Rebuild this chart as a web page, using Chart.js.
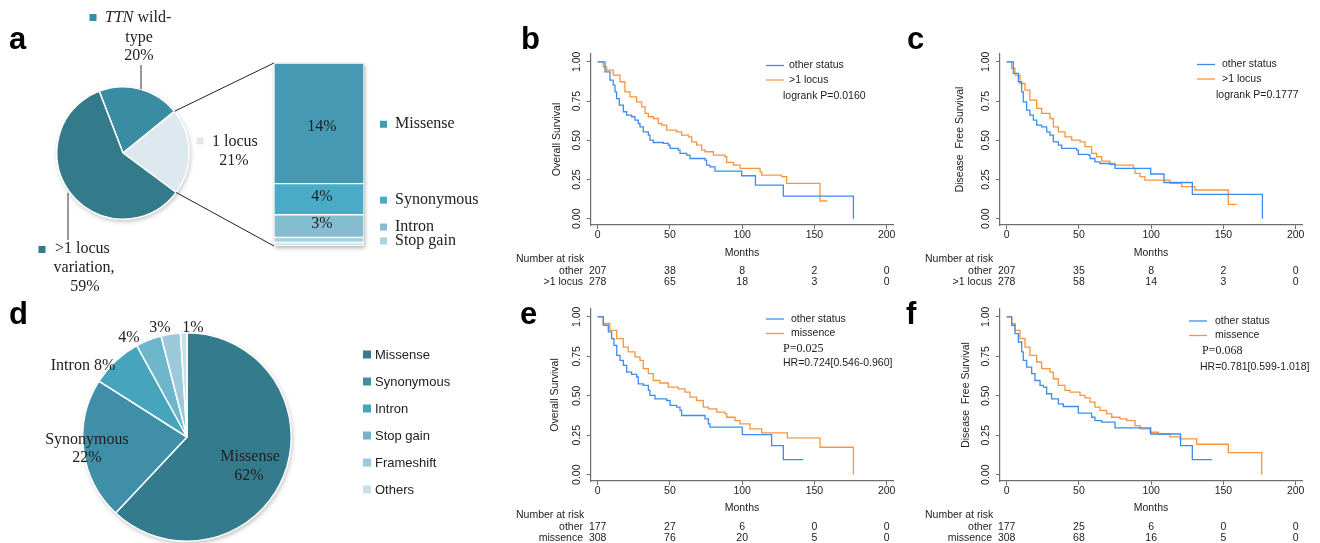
<!DOCTYPE html>
<html>
<head>
<meta charset="utf-8">
<script src="https://cdn.jsdelivr.net/npm/chart.js@4.4.1/dist/chart.umd.min.js"></script>
<style>
  html, body { margin: 0; padding: 0; background: #fff; }
  #page { position: relative; width: 1320px; height: 543px; overflow: hidden; background: #fff; }
  canvas { position: absolute; }
  .tag { position: absolute; font: bold 31px 'Liberation Sans', Arial, sans-serif; line-height: 31px; color: #000; }
</style>
</head>
<body>
<div id="page">
  <canvas id="pieA" width="540" height="300" style="left:0;top:0"></canvas>
  <canvas id="barA" width="540" height="300" style="left:0;top:0"></canvas>
  <canvas id="pieD" width="540" height="243" style="left:0;top:300px"></canvas>
  <canvas id="kmB" width="400" height="265" style="left:500px;top:30px"></canvas>
  <canvas id="kmC" width="400" height="265" style="left:910px;top:30px"></canvas>
  <canvas id="kmE" width="400" height="253" style="left:500px;top:290px"></canvas>
  <canvas id="kmF" width="400" height="253" style="left:910px;top:290px"></canvas>
  <div class="tag" style="left:9px;top:23px">a</div>
  <div class="tag" style="left:521px;top:23px">b</div>
  <div class="tag" style="left:907px;top:23px">c</div>
  <div class="tag" style="left:9px;top:298px">d</div>
  <div class="tag" style="left:520px;top:298px">e</div>
  <div class="tag" style="left:906px;top:298px">f</div>
</div>
<script>
// ==== Data ====
// panel a: TTN status pie + breakdown of the "1 locus" slice
const statusLabels = ['TTN wild-type', '1 locus', '>1 locus variation'];
const statusShare = [20, 21, 59];
const locusLabels = ['Missense', 'Synonymous', 'Intron', 'Stop gain', 'Other'];
const locusShare = [13.9, 3.6, 2.6, 0.6, 0.4];
const locusText = ['14%', '4%', '3%'];

// panel d: mutation types
const mutLabels = ['Missense', 'Synonymous', 'Intron', 'Stop gain', 'Frameshift', 'Others'];
const mutShare = [62, 22, 8, 4, 3, 1];

// Kaplan-Meier curves, [month, survival]
const riskTimes = [0, 50, 100, 150, 200];
const survTicks = [0, 0.25, 0.5, 0.75, 1];

const bOther = [[0,1],[5.1,0.936],[8.5,0.883],[10.8,0.851],[12.0,0.809],[13.1,0.766],[15.0,0.724],[17.8,0.682],[20.1,0.660],[23.5,0.650],[25.8,0.628],[28.1,0.607],[29.3,0.586],[31.6,0.554],[35.1,0.533],[36.2,0.501],[38.5,0.486],[45.4,0.480],[48.9,0.469],[50.1,0.448],[55.8,0.437],[57.0,0.416],[61.6,0.406],[63.9,0.384],[74.3,0.374],[75.4,0.342],[77.7,0.331],[81.2,0.304],[99.7,0.274],[109.2,0.214],[128.5,0.144],[177,0]];
const bLocus = [[0,1],[3.9,0.968],[6.2,0.947],[10.8,0.915],[15.5,0.873],[18.9,0.809],[22.4,0.777],[27.0,0.745],[30.5,0.713],[32.8,0.671],[35.1,0.650],[38.5,0.639],[42.0,0.607],[44.3,0.597],[47.8,0.565],[54.7,0.554],[58.1,0.533],[62.8,0.522],[65.1,0.490],[68.5,0.469],[72.0,0.437],[74.3,0.427],[80.1,0.406],[88.1,0.395],[89.3,0.359],[93.9,0.342],[98.5,0.321],[112.4,0.299],[113.5,0.278],[127.3,0.268],[130.8,0.225],[153.9,0.113],[159,0.113]];

const cOther = [[0,1],[4.6,0.926],[8.1,0.873],[10.4,0.809],[11.5,0.745],[13.8,0.692],[16.1,0.660],[18.5,0.628],[20.8,0.597],[24.2,0.586],[27.7,0.554],[30.0,0.533],[32.3,0.490],[35.8,0.469],[38.1,0.448],[48.4,0.437],[49.6,0.410],[56.5,0.406],[57.7,0.384],[61.1,0.363],[64.6,0.352],[71.5,0.346],[75.0,0.321],[99.7,0.285],[108.9,0.231],[128.5,0.155],[177,0]];
const cLocus = [[0,1],[3.5,0.958],[5.8,0.915],[9.2,0.862],[12.7,0.820],[16.1,0.756],[20.8,0.703],[24.2,0.671],[30.0,0.639],[32.3,0.586],[35.8,0.554],[40.4,0.522],[45.0,0.501],[50.8,0.490],[54.2,0.459],[58.8,0.416],[62.3,0.395],[65.8,0.367],[71.5,0.352],[75.0,0.342],[87.7,0.321],[88.8,0.289],[92.3,0.268],[95.7,0.246],[113.0,0.225],[121.1,0.204],[130.3,0.183],[153.4,0.091],[159.2,0.091]];

const eOther = [[0,1],[3.9,0.947],[7.4,0.905],[9.7,0.862],[11.3,0.820],[13.2,0.756],[15.5,0.725],[17.8,0.693],[20.1,0.650],[23.5,0.636],[27.0,0.619],[28.1,0.576],[31.6,0.566],[35.1,0.534],[36.2,0.502],[39.7,0.481],[47.8,0.470],[50.1,0.439],[54.7,0.428],[57.0,0.407],[58.1,0.375],[74.3,0.354],[76.6,0.322],[77.7,0.301],[100.1,0.254],[120.4,0.184],[128.5,0.095],[142.3,0.095]];
const eMis = [[0,1],[3.9,0.958],[8.5,0.915],[13.2,0.862],[17.8,0.809],[21.2,0.778],[25.8,0.746],[29.3,0.725],[31.6,0.672],[35.1,0.640],[38.5,0.597],[43.1,0.581],[48.9,0.555],[55.8,0.544],[60.4,0.523],[63.9,0.492],[68.5,0.470],[73.1,0.428],[76.6,0.417],[82.4,0.396],[88.1,0.386],[89.3,0.364],[95.0,0.343],[98.5,0.322],[105.4,0.290],[113.5,0.265],[131.3,0.233],[153.9,0.174],[177,0]];

const fOther = [[0,1],[3.5,0.947],[5.8,0.894],[8.1,0.841],[10.4,0.778],[11.5,0.725],[13.8,0.682],[17.3,0.640],[19.6,0.597],[23.1,0.566],[25.4,0.555],[27.7,0.513],[31.1,0.481],[35.8,0.449],[39.2,0.432],[49.6,0.390],[58.8,0.364],[61.1,0.343],[65.8,0.333],[75.0,0.297],[99.7,0.258],[120.4,0.184],[128.5,0.095],[142.3,0.095]];
const fMis = [[0,1],[3.5,0.958],[5.8,0.915],[9.2,0.862],[12.7,0.809],[16.1,0.756],[20.8,0.714],[24.2,0.672],[30.0,0.650],[32.3,0.608],[35.8,0.566],[40.4,0.534],[43.8,0.523],[50.8,0.502],[54.2,0.487],[57.7,0.460],[61.1,0.428],[64.6,0.407],[69.2,0.386],[72.7,0.364],[78.4,0.354],[83.1,0.343],[88.8,0.311],[92.3,0.290],[99.2,0.269],[105.0,0.258],[113.0,0.239],[119.9,0.227],[131.5,0.193],[153.4,0.140],[176.5,0]];

// numbers at risk
const bRiskOther = [207, 38, 8, 2, 0];
const bRiskLocus = [278, 65, 18, 3, 0];
const cRiskOther = [207, 35, 8, 2, 0];
const cRiskLocus = [278, 58, 14, 3, 0];
const eRiskOther = [177, 27, 6, 0, 0];
const eRiskMis = [308, 76, 20, 5, 0];
const fRiskOther = [177, 25, 6, 0, 0];
const fRiskMis = [308, 68, 16, 5, 0];

// ==== Styles ====
const SANS = "'Liberation Sans', Arial, sans-serif";
const SERIF = "'Liberation Serif', 'Times New Roman', serif";
const TXT = '#222';
const AXIS = '#6e6e6e';
const BLUE = '#3b8df2';
const ORANGE = '#f7963f';
const statusColors = ['#3a8ca2', '#dde9ef', '#337a8b'];
const locusColors = ['#4599b3', '#49abc5', '#85bdd0', '#a8d3e1', '#cfe6ee'];
const mutColors = ['#347b8d', '#3e8fa7', '#46a5bd', '#6db6cb', '#9dcadb', '#c6e1eb'];

Chart.defaults.font.family = SANS;
Chart.defaults.color = TXT;

// soft drop shadow under a pie
const pieShadow = {
    id: 'pieShadow',
    beforeDatasetsDraw(chart) {
        const arc = chart.getDatasetMeta(0).data[0];
        const ctx = chart.ctx;
        ctx.save();
        ctx.shadowColor = 'rgba(0,0,0,0.28)';
        ctx.shadowBlur = 5;
        ctx.shadowOffsetX = 1;
        ctx.shadowOffsetY = 2;
        ctx.fillStyle = '#fff';
        ctx.beginPath();
        ctx.arc(arc.x, arc.y, arc.outerRadius, 0, Math.PI * 2);
        ctx.fill();
        ctx.restore();
    }
};

// small legend square, leaves the text colour set again
function square(ctx, x, y, color) {
    ctx.fillStyle = color;
    ctx.fillRect(x, y - 3.5, 7, 7);
    ctx.fillStyle = TXT;
}

// ==== Panel a: pie ====
const pieALabels = {
    id: 'pieALabels',
    afterDraw(chart) {
        const { ctx } = chart;
        const arc = chart.getDatasetMeta(0).data[0];
        const cx = arc.x, cy = arc.y, r = arc.outerRadius;
        ctx.save();
        ctx.textBaseline = 'middle';
        ctx.fillStyle = TXT;

        // wild-type
        square(ctx, 89.5, 17.5, statusColors[0]);
        ctx.textAlign = 'left';
        ctx.font = 'italic 16px ' + SERIF;
        ctx.fillText('TTN', 105, 18);
        const w = ctx.measureText('TTN').width;
        ctx.font = '16px ' + SERIF;
        ctx.fillText(' wild-', 105 + w, 18);
        ctx.textAlign = 'center';
        ctx.fillText('type', 139, 38);
        ctx.fillText('20%', 139, 56);

        // 1 locus
        square(ctx, 196.5, 141, statusColors[1]);
        ctx.textAlign = 'left';
        ctx.fillText('1 locus', 212, 142);
        ctx.textAlign = 'center';
        ctx.fillText('21%', 234, 161);

        // >1 locus
        square(ctx, 38.5, 249.5, statusColors[2]);
        ctx.textAlign = 'left';
        ctx.fillText('>1 locus', 55, 249);
        ctx.textAlign = 'center';
        ctx.fillText('variation,', 84, 268);
        ctx.fillText('59%', 85, 287);

        // leader lines
        ctx.strokeStyle = '#333';
        ctx.lineWidth = 1;
        ctx.beginPath();
        ctx.moveTo(cx + 18, cy - Math.sqrt(r * r - 18 * 18));
        ctx.lineTo(cx + 18, 65);
        ctx.moveTo(cx - 55, cy + Math.sqrt(r * r - 55 * 55) + 3);
        ctx.lineTo(cx - 55, 240);
        ctx.stroke();
        ctx.restore();
    }
};

const pieA = new Chart(document.getElementById('pieA'), {
    type: 'pie',
    data: {
        labels: statusLabels,
        datasets: [{
            data: statusShare,
            backgroundColor: statusColors,
            borderColor: '#fff',
            borderWidth: 1.5,
            rotation: -21
        }]
    },
    options: {
        responsive: false,
        animation: false,
        rotation: -21,
        layout: { padding: { left: 56, right: 350, top: 86, bottom: 80 } },
        plugins: { legend: { display: false }, tooltip: { enabled: false } }
    },
    plugins: [pieShadow, pieALabels]
});

// ==== Panel a: stacked bar for the 1 locus slice ====
const barShadow = {
    id: 'barShadow',
    beforeDatasetsDraw(chart) {
        const { ctx, chartArea: a } = chart;
        ctx.save();
        ctx.shadowColor = 'rgba(0,0,0,0.3)';
        ctx.shadowBlur = 4;
        ctx.shadowOffsetX = 1;
        ctx.shadowOffsetY = 2;
        ctx.fillStyle = '#fff';
        ctx.fillRect(a.left, a.top, a.right - a.left, a.bottom - a.top);
        ctx.restore();
    }
};

const barAExtras = {
    id: 'barAExtras',
    afterDraw(chart) {
        const { ctx } = chart;
        const n = chart.data.datasets.length;
        const first = chart.getDatasetMeta(0).data[0];
        const last = chart.getDatasetMeta(n - 1).data[0];
        const left = first.x - first.width / 2;
        const right = first.x + first.width / 2;
        const top = first.base;
        const bottom = last.y;

        // lines from the "1 locus" slice edges to the bar
        const slice = pieA.getDatasetMeta(0).data[1];
        const r = slice.outerRadius;
        ctx.save();
        ctx.strokeStyle = '#222';
        ctx.lineWidth = 1;
        ctx.beginPath();
        ctx.moveTo(slice.x + r * Math.cos(slice.startAngle), slice.y + r * Math.sin(slice.startAngle));
        ctx.lineTo(left, top);
        ctx.moveTo(slice.x + r * Math.cos(slice.endAngle), slice.y + r * Math.sin(slice.endAngle));
        ctx.lineTo(left, bottom);
        ctx.stroke();

        ctx.textBaseline = 'middle';
        ctx.font = '16px ' + SERIF;
        // percentages inside the segments
        locusText.forEach((t, i) => {
            const el = chart.getDatasetMeta(i).data[0];
            ctx.fillStyle = TXT;
            ctx.textAlign = 'center';
            ctx.fillText(t, el.x + 3, (el.y + el.base) / 2 + (i === 0 ? 4 : -2));
        });
        // legend next to the bar
        for (let i = 0; i < 4; i++) {
            const el = chart.getDatasetMeta(i).data[0];
            const cy = (el.y + el.base) / 2 + 1;
            square(ctx, right + 16, cy, locusColors[i]);
            ctx.textAlign = 'left';
            ctx.fillText(locusLabels[i], right + 31, cy);
        }
        ctx.restore();
    }
};

new Chart(document.getElementById('barA'), {
    type: 'bar',
    data: {
        labels: ['1 locus'],
        datasets: locusLabels.map((label, i) => ({
            label: label,
            data: [locusShare[i]],
            backgroundColor: locusColors[i],
            borderColor: '#fff',
            borderWidth: 1,
            borderSkipped: false,
            barPercentage: 1,
            categoryPercentage: 1
        }))
    },
    options: {
        responsive: false,
        animation: false,
        layout: { padding: { left: 274, right: 176, top: 63, bottom: 54 } },
        scales: {
            x: { display: false, stacked: true },
            y: { display: false, stacked: true, reverse: true, min: 0, max: locusShare.reduce((s, v) => s + v, 0) }
        },
        plugins: { legend: { display: false }, tooltip: { enabled: false } }
    },
    plugins: [barShadow, barAExtras]
});

// ==== Panel d: mutation type pie ====
const pieDExtras = {
    id: 'pieDExtras',
    afterDraw(chart) {
        const { ctx } = chart;
        ctx.save();
        ctx.textBaseline = 'middle';
        ctx.fillStyle = TXT;
        ctx.textAlign = 'center';
        ctx.font = '16px ' + SERIF;
        ctx.fillText('Missense', 250, 157);
        ctx.fillText('62%', 249, 176);
        ctx.fillText('Synonymous', 87, 140);
        ctx.fillText('22%', 87, 158);
        ctx.fillText('Intron 8%', 83, 66);
        ctx.fillText('4%', 129, 38);
        ctx.fillText('3%', 160, 28);
        ctx.fillText('1%', 193, 28);

        // legend
        ctx.font = '13px ' + SANS;
        ctx.textAlign = 'left';
        mutLabels.forEach((label, i) => {
            const y = 54.5 + i * 27;
            ctx.fillStyle = mutColors[i];
            ctx.fillRect(363, y - 4, 8, 8);
            ctx.fillStyle = TXT;
            ctx.fillText(label, 375, y + 0.5);
        });
        ctx.restore();
    }
};

new Chart(document.getElementById('pieD'), {
    type: 'pie',
    data: {
        labels: mutLabels,
        datasets: [{
            data: mutShare,
            backgroundColor: mutColors,
            borderColor: '#fff',
            borderWidth: 1.5
        }]
    },
    options: {
        responsive: false,
        animation: false,
        layout: { padding: { left: 82, right: 248, top: 32, bottom: 1 } },
        plugins: { legend: { display: false }, tooltip: { enabled: false } }
    },
    plugins: [pieShadow, pieDExtras]
});

// ==== Kaplan-Meier panels ====
function kmExtras(cfg) {
    return {
        id: 'kmExtras',
        afterDraw(chart) {
            const { ctx, chartArea: a, scales: { x } } = chart;
            ctx.save();
            ctx.textBaseline = 'middle';
            ctx.font = '10.5px ' + SANS;

            // legend
            chart.data.datasets.forEach((d, i) => {
                const y = a.top + cfg.legY + i * 14.5;
                ctx.strokeStyle = d.borderColor;
                ctx.lineWidth = 1.3;
                ctx.beginPath();
                ctx.moveTo(a.left + cfg.legX, y);
                ctx.lineTo(a.left + cfg.legX + 18, y);
                ctx.stroke();
                ctx.fillStyle = TXT;
                ctx.textAlign = 'left';
                ctx.fillText(d.label, a.left + cfg.legX + cfg.legGap, y);
            });

            // test statistics
            cfg.stats.forEach(s => {
                ctx.font = s.serif ? '12px ' + SERIF : '10.5px ' + SANS;
                ctx.fillText(s.text, a.left + s.dx, a.top + s.dy);
            });

            // number at risk table
            ctx.font = '10.5px ' + SANS;
            ctx.textAlign = 'left';
            ctx.fillText('Number at risk', a.left - 75, a.bottom + 34);
            cfg.riskRows.forEach((row, r) => {
                const y = a.bottom + 46 + r * 11.5;
                ctx.textAlign = 'right';
                ctx.fillText(row.name, a.left - 8, y);
                ctx.textAlign = 'center';
                row.values.forEach((v, k) => ctx.fillText(String(v), x.getPixelForValue(riskTimes[k]), y));
            });
            ctx.restore();
        }
    };
}

function kmChart(id, cfg) {
    const line = (label, pts, color) => ({
        label: label,
        data: pts.map(([t, s]) => ({ x: t, y: s })),
        borderColor: color,
        borderWidth: 1.3,
        pointRadius: 0,
        fill: false,
        stepped: 'before'
    });
    return new Chart(document.getElementById(id), {
        type: 'line',
        data: {
            datasets: [
                line('other status', cfg.other, BLUE),
                line(cfg.groupName, cfg.group, ORANGE)
            ]
        },
        options: {
            responsive: false,
            animation: false,
            layout: { padding: cfg.pad },
            plugins: { legend: { display: false }, tooltip: { enabled: false } },
            scales: {
                x: {
                    type: 'linear',
                    min: -4.6,
                    max: 204.4,
                    afterBuildTicks: s => { s.ticks = riskTimes.map(v => ({ value: v })); },
                    afterFit: s => { s.height = cfg.xH; },
                    grid: { display: true, drawOnChartArea: false, drawTicks: true, tickLength: 4, color: AXIS },
                    border: { display: true, color: AXIS, width: 1.2 },
                    ticks: { padding: 1, maxRotation: 0, autoSkip: false, color: TXT, font: { size: 10.5, lineHeight: 1 } },
                    title: { display: true, text: 'Months', color: TXT, padding: 0, font: { size: 10.5, lineHeight: 1.2 } }
                },
                y: {
                    min: -0.04,
                    max: 1.05,
                    afterBuildTicks: s => { s.ticks = survTicks.map(v => ({ value: v })); },
                    afterFit: s => { s.width = cfg.yW; },
                    grid: { display: true, drawOnChartArea: false, drawTicks: true, tickLength: 4, color: AXIS },
                    border: { display: true, color: AXIS, width: 1.2 },
                    ticks: {
                        minRotation: 90, maxRotation: 90, crossAlign: 'center', padding: 0,
                        color: TXT, font: { size: 10.5, lineHeight: 1 },
                        callback: v => Number(v).toFixed(2)
                    },
                    title: { display: true, text: cfg.yTitle, color: TXT, padding: 0, font: { size: 10.5, lineHeight: 1.2 } }
                }
            }
        },
        plugins: [kmExtras(cfg)]
    });
}

kmChart('kmB', {
    other: bOther, group: bLocus, groupName: '>1 locus', yTitle: 'Overall Survival',
    pad: { left: 51, right: 7, top: 24, bottom: 36 }, yW: 40, xH: 34,
    legX: 175, legY: 11.5, legGap: 23,
    stats: [{ text: 'logrank P=0.0160', dx: 192, dy: 42 }],
    riskRows: [{ name: 'other', values: bRiskOther }, { name: '>1 locus', values: bRiskLocus }]
});

kmChart('kmC', {
    other: cOther, group: cLocus, groupName: '>1 locus', yTitle: 'Disease  Free Survival',
    pad: { left: 44, right: 8, top: 24, bottom: 36 }, yW: 46, xH: 34,
    legX: 197, legY: 10.5, legGap: 25,
    stats: [{ text: 'logrank P=0.1777', dx: 216, dy: 41 }],
    riskRows: [{ name: 'other', values: cRiskOther }, { name: '>1 locus', values: cRiskLocus }]
});

kmChart('kmE', {
    other: eOther, group: eMis, groupName: 'missence', yTitle: 'Overall Survival',
    pad: { left: 49, right: 7, top: 19, bottom: 29 }, yW: 42, xH: 33,
    legX: 175, legY: 10, legGap: 25,
    stats: [{ text: 'P=0.025', dx: 192, dy: 40, serif: true }, { text: 'HR=0.724[0.546-0.960]', dx: 192, dy: 54 }],
    riskRows: [{ name: 'other', values: eRiskOther }, { name: 'missence', values: eRiskMis }]
});

kmChart('kmF', {
    other: fOther, group: fMis, groupName: 'missence', yTitle: 'Disease  Free Survival',
    pad: { left: 50, right: 8, top: 19, bottom: 29 }, yW: 40, xH: 33,
    legX: 189, legY: 12, legGap: 26,
    stats: [{ text: 'P=0.068', dx: 202, dy: 42, serif: true }, { text: 'HR=0.781[0.599-1.018]', dx: 200, dy: 58 }],
    riskRows: [{ name: 'other', values: fRiskOther }, { name: 'missence', values: fRiskMis }]
});
</script>
</body>
</html>
